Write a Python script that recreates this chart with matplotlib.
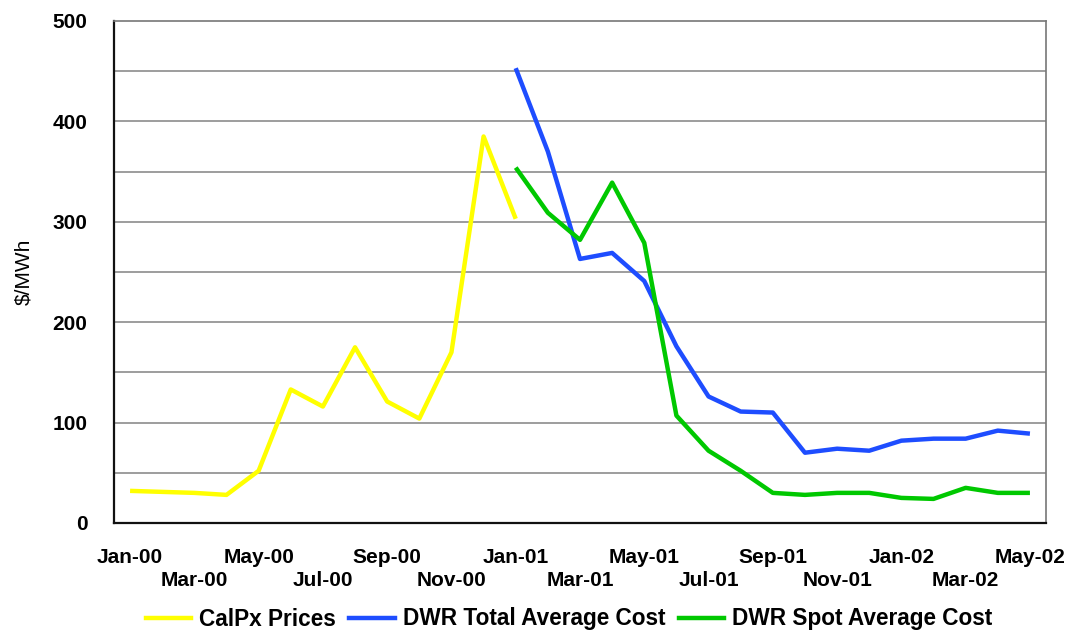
import matplotlib
matplotlib.use("Agg")
import matplotlib.pyplot as plt
from matplotlib.lines import Line2D

plt.rcParams['font.family'] = ['Liberation Sans', 'DejaVu Sans']

months = ["Jan-00", "Feb-00", "Mar-00", "Apr-00", "May-00", "Jun-00", "Jul-00", "Aug-00",
          "Sep-00", "Oct-00", "Nov-00", "Dec-00", "Jan-01", "Feb-01", "Mar-01", "Apr-01",
          "May-01", "Jun-01", "Jul-01", "Aug-01", "Sep-01", "Oct-01", "Nov-01", "Dec-01",
          "Jan-02", "Feb-02", "Mar-02", "Apr-02", "May-02"]

# CalPX monthly prices, Jan-00 .. Jan-01
calpx_prices = [32, 31, 30, 28, 52, 133, 116, 175, 121, 104, 170, 385, 303]
# DWR costs, Jan-01 .. May-02
dwr_total_avg = [453, 370, 263, 269, 241, 176, 126, 111, 110, 70, 74, 72, 82, 84, 84, 92, 89]
dwr_spot_avg = [354, 309, 282, 339, 279, 107, 72, 52, 30, 28, 30, 30, 25, 24, 35, 30, 30]

y_ticks = [0, 100, 200, 300, 400, 500]

fig = plt.figure(figsize=(10.73, 6.34), dpi=100)
ax = fig.add_axes([114 / 1073, 1 - 523 / 634, (1046 - 114) / 1073, (523 - 21) / 634])

x_cal = list(range(len(calpx_prices)))
start_dwr = months.index("Jan-01")
x_dwr = list(range(start_dwr, start_dwr + len(dwr_total_avg)))

lw = 3.2
ax.plot(x_cal, calpx_prices, color="#FFFF00", lw=lw, solid_capstyle="butt", zorder=3)
ax.plot(x_dwr, dwr_total_avg, color="#1E4DFF", lw=lw, solid_capstyle="butt", zorder=3)
ax.plot(x_dwr, dwr_spot_avg, color="#00C800", lw=lw, solid_capstyle="butt", zorder=4)

ax.set_xlim(-0.5, len(months) - 0.5)
ax.set_ylim(0, 500)

# gridlines every 50
for v in range(50, 500, 50):
    ax.axhline(v, color="#8c8c8c", lw=1.2, zorder=1)

ax.set_yticks(y_ticks)
ax.set_yticklabels([str(v) for v in y_ticks], fontsize=15, fontweight="bold")
ax.tick_params(axis="y", length=0, pad=19)

# month labels, every other month, staggered on two rows
ax.set_xticks([])
for i in range(0, len(months), 2):
    yoff = -0.0697 if i % 4 == 0 else -0.1155
    ax.text(i, yoff, months[i], transform=ax.get_xaxis_transform(),
            ha="center", va="center", fontsize=15, fontweight="bold")

ax.set_ylabel("$/MWh", fontsize=15, labelpad=14)

for side in ("left", "bottom"):
    ax.spines[side].set_color("#111111")
    ax.spines[side].set_linewidth(1.6)
for side in ("top", "right"):
    ax.spines[side].set_color("#777777")
    ax.spines[side].set_linewidth(1.2)

handles = [Line2D([], [], color="#FFFF00", lw=lw),
           Line2D([], [], color="#1E4DFF", lw=lw),
           Line2D([], [], color="#00C800", lw=lw)]
labels = ["CalPx Prices", "DWR Total Average Cost", "DWR Spot Average Cost"]
fig.legend(handles, labels, loc="center", bbox_to_anchor=(569 / 1073, 1 - 619 / 634),
           ncol=3, frameon=False, prop={"size": 16.3, "weight": "bold"},
           handlelength=2.0, handletextpad=0.35, columnspacing=0.6,
           borderpad=0, borderaxespad=0)

fig.savefig("out.png", dpi=100)
